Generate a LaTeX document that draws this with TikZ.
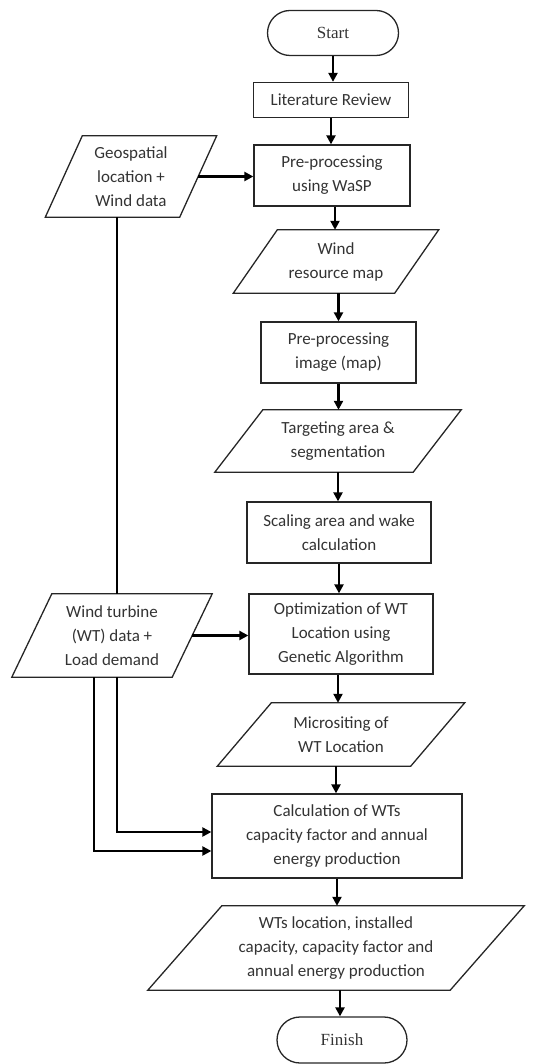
\documentclass[tikz,border=0pt]{standalone}
\usepackage{fontspec}
\setmainfont{Carlito}
\newfontfamily\timesf{Liberation Serif}
\usetikzlibrary{arrows.meta,shapes.misc}
\newcommand\ionode[7]{%
  \node[base, minimum width=#4pt, minimum height=#5pt] (#1) at (#2,#3) {#7};
  \draw[shapeline] ([xshift=#6pt]#1.north west) -- ([xshift=#6pt]#1.north east)
     -- ([xshift=-#6pt]#1.south east) -- ([xshift=-#6pt]#1.south west) -- cycle;}
\begin{document}
\begin{tikzpicture}[x=1pt,y=-1pt,
  base/.style={font=\fontsize{17}{24}\selectfont, text=black!80, align=center, inner sep=0pt},
  shapeline/.style={draw=black!85, line width=1.3pt, line join=miter},
  proc/.style 2 args={base, shapeline, minimum width=#1pt, minimum height=#2pt},
  term/.style 2 args={base, shapeline, rounded rectangle, font=\timesf\fontsize{17}{24}\selectfont, minimum width=#1pt, minimum height=#2pt},
  arr/.style={draw=black, line width=2.2pt, -{Triangle[length=9pt,width=9pt]}},
  wire/.style={draw=black, line width=2.2pt}]
\useasboundingbox (0,0) rectangle (543,1064);
\node[term={131}{45}] (start) at (333,33) {Start};
\node[proc={155}{35}] (lit) at (331,100) {Literature Review};
\node[proc={156}{61}] (wasp) at (332,175.5) {Pre-processing\\using WaSP};
\ionode{geo}{131}{176.5}{134}{81}{18.5}{Geospatial\\location +\\Wind data}
\ionode{map}{336}{261.5}{161}{63}{22}{Wind\\resource map}
\node[proc={155}{61}] (pimg) at (338.5,352.5) {Pre-processing\\image (map)};
\ionode{target}{338}{441}{198}{62}{24}{Targeting area \&\\segmentation}
\node[proc={184}{61}] (scale) at (339,532.5) {Scaling area and wake\\calculation};
\node[proc={184}{80}] (opt) at (341,634) {Optimization of WT\\Location using\\Genetic Algorithm};
\ionode{wt}{112}{635.5}{160}{83}{20}{Wind turbine\\(WT) data +\\Load demand}
\ionode{micro}{341}{734.5}{193}{63}{27}{Micrositing of\\WT Location}
\node[proc={250}{84}] (calc) at (337,836) {Calculation of WTs\\capacity factor and annual\\energy production};
\ionode{out}{336}{948}{302}{84}{37}{WTs location, installed\\capacity, capacity factor and\\annual energy production}
\node[term={130}{46}] (finish) at (342,1040) {Finish};

\draw[arr] (start.south) -- (start.south |- lit.north);
\draw[arr] (lit.south) -- (lit.south |- wasp.north);
\draw[arr] ([xshift=3pt]wasp.south) -- ([xshift=3pt]wasp.south |- map.north);
\draw[arr] (pimg.north |- map.south) -- (pimg.north);
\draw[arr] (pimg.south) -- (pimg.south |- target.north);
\draw[arr] (target.south) -- (target.south |- scale.north);
\draw[arr] (scale.south) -- (scale.south |- opt.north);
\draw[arr] ([xshift=-3pt]opt.south) -- ([xshift=-3pt]opt.south |- micro.north);
\draw[arr] ([xshift=-5pt]micro.south) -- ([xshift=-5pt]micro.south |- calc.north);
\draw[arr] (calc.south) -- (calc.south |- out.north);
\draw[arr] ([xshift=4pt]out.south) -- ([xshift=4pt]out.south |- finish.north);

\draw[arr] (geo.east) -- (geo.east -| wasp.west);
\draw[arr] (wt.east) -- (wt.east -| opt.west);

\coordinate (g1) at ([xshift=-14pt]geo.south);
\draw[wire] (g1) -- (g1 |- wt.north);
\coordinate (w1) at (g1 |- wt.south);
\coordinate (w2) at ([xshift=-18pt]wt.south);
\draw[arr] (w1) |- ([yshift=4pt]calc.west);
\draw[arr] (w2) |- ([yshift=-15pt]calc.west);
\end{tikzpicture}
\end{document}
